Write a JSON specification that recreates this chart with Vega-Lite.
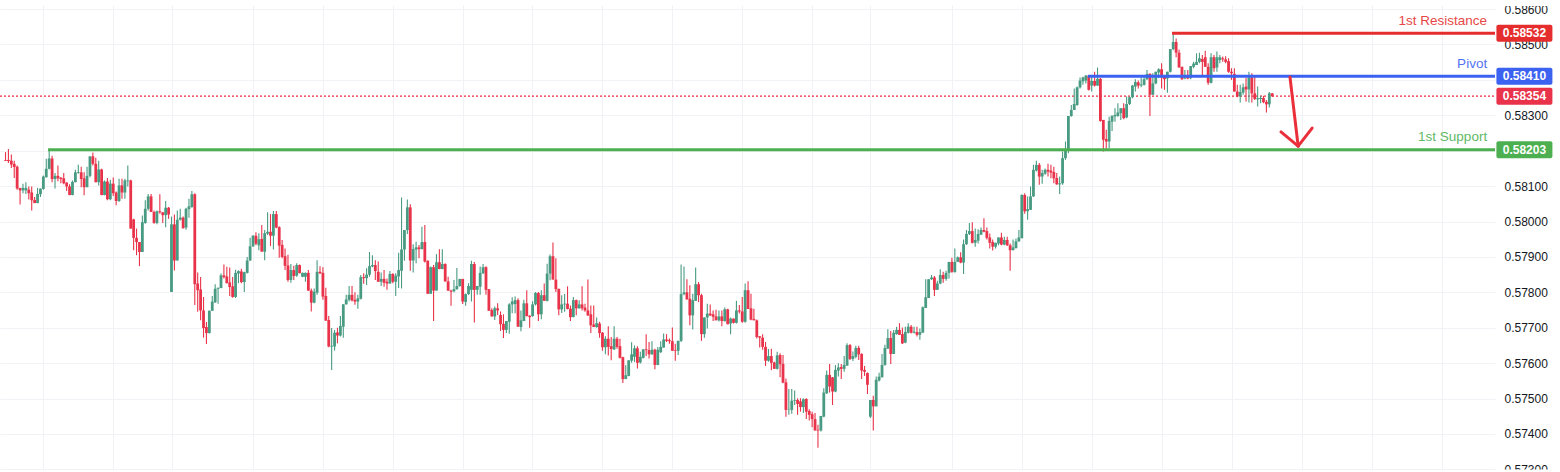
{
  "$schema": "https://vega.github.io/schema/vega-lite/v6.json",
  "width": 1495,
  "height": 465,
  "autosize": "none",
  "padding": {"left": 0, "top": 5, "right": 65, "bottom": 2},
  "background": "#ffffff",
  "config": {"view": {"stroke": null}},
  "datasets": {
    "levels": [
      {"level": "1st Resistance", "price": 0.58532, "from": 400.6},
      {"level": "Pivot", "price": 0.5841, "from": 371.7},
      {"level": "1st Support", "price": 0.58203, "from": 14.6}
    ],
    "last": [{"level": "Last", "price": 0.58354, "from": -1.89}],
    "arrow": [
      {"part": "shaft", "t": 441.1, "p": 0.58408},
      {"part": "shaft", "t": 443.9, "p": 0.58213},
      {"part": "left", "t": 438.0, "p": 0.58253},
      {"part": "left", "t": 443.9, "p": 0.58213},
      {"part": "right", "t": 448.7, "p": 0.58264},
      {"part": "right", "t": 443.9, "p": 0.58213}
    ],
    "edges": [
      {"a": 512.4, "b": 536, "top": 0.5866, "bottom": 0.58609},
      {"a": 512.4, "b": 536, "top": 0.572997, "bottom": 0.5725}
    ],
    "candles": [
      {"t":0,"o":0.58174,"h":0.58196,"l":0.58171,"c":0.58172},
      {"t":1,"o":0.58174,"h":0.58205,"l":0.58165,"c":0.58171},
      {"t":2,"o":0.58172,"h":0.58189,"l":0.58151,"c":0.58161},
      {"t":3,"o":0.58163,"h":0.58172,"l":0.58123,"c":0.58154},
      {"t":4,"o":0.58155,"h":0.58158,"l":0.5809,"c":0.58093},
      {"t":5,"o":0.58095,"h":0.58095,"l":0.58048,"c":0.58088},
      {"t":6,"o":0.58088,"h":0.58107,"l":0.5808,"c":0.58095},
      {"t":7,"o":0.58088,"h":0.58111,"l":0.58078,"c":0.58095},
      {"t":8,"o":0.5809,"h":0.58099,"l":0.58062,"c":0.5808},
      {"t":9,"o":0.58082,"h":0.58099,"l":0.58031,"c":0.5806},
      {"t":10,"o":0.58061,"h":0.58069,"l":0.58052,"c":0.58052},
      {"t":11,"o":0.58052,"h":0.58095,"l":0.58052,"c":0.58078},
      {"t":12,"o":0.58077,"h":0.58093,"l":0.58069,"c":0.58093},
      {"t":13,"o":0.58092,"h":0.5813,"l":0.5809,"c":0.58127},
      {"t":14,"o":0.58125,"h":0.58177,"l":0.58124,"c":0.58149},
      {"t":15,"o":0.58149,"h":0.58201,"l":0.58147,"c":0.58178},
      {"t":16,"o":0.58178,"h":0.58186,"l":0.58111,"c":0.5812},
      {"t":17,"o":0.5812,"h":0.58137,"l":0.58093,"c":0.58129},
      {"t":18,"o":0.58129,"h":0.58158,"l":0.58114,"c":0.58122},
      {"t":19,"o":0.58124,"h":0.58125,"l":0.58108,"c":0.5812},
      {"t":20,"o":0.58122,"h":0.58137,"l":0.58105,"c":0.58108},
      {"t":21,"o":0.5811,"h":0.58111,"l":0.58086,"c":0.58099},
      {"t":22,"o":0.58099,"h":0.58105,"l":0.58074,"c":0.58075},
      {"t":23,"o":0.58075,"h":0.58116,"l":0.58074,"c":0.58112},
      {"t":24,"o":0.58111,"h":0.58146,"l":0.58111,"c":0.58139},
      {"t":25,"o":0.58137,"h":0.5816,"l":0.58135,"c":0.58139},
      {"t":26,"o":0.58139,"h":0.58155,"l":0.58097,"c":0.5812},
      {"t":27,"o":0.58122,"h":0.58139,"l":0.58074,"c":0.58097},
      {"t":28,"o":0.58097,"h":0.58155,"l":0.58097,"c":0.58129},
      {"t":29,"o":0.58129,"h":0.58184,"l":0.58125,"c":0.58184},
      {"t":30,"o":0.58184,"h":0.58195,"l":0.58158,"c":0.58163},
      {"t":31,"o":0.58163,"h":0.5818,"l":0.58111,"c":0.58111},
      {"t":32,"o":0.58111,"h":0.58172,"l":0.58102,"c":0.58147},
      {"t":33,"o":0.58147,"h":0.58149,"l":0.58074,"c":0.58075},
      {"t":34,"o":0.58075,"h":0.58116,"l":0.58074,"c":0.58113},
      {"t":35,"o":0.58113,"h":0.58123,"l":0.5806,"c":0.58063},
      {"t":36,"o":0.58063,"h":0.58118,"l":0.5806,"c":0.58107},
      {"t":37,"o":0.58107,"h":0.58124,"l":0.58072,"c":0.5808},
      {"t":38,"o":0.58082,"h":0.58085,"l":0.58046,"c":0.58058},
      {"t":39,"o":0.58058,"h":0.58121,"l":0.58055,"c":0.58102},
      {"t":40,"o":0.58102,"h":0.58121,"l":0.58064,"c":0.58082},
      {"t":41,"o":0.58082,"h":0.58121,"l":0.58064,"c":0.58116},
      {"t":42,"o":0.58114,"h":0.58158,"l":0.58099,"c":0.58116},
      {"t":43,"o":0.58116,"h":0.58118,"l":0.5798,"c":0.5798},
      {"t":44,"o":0.58006,"h":0.58008,"l":0.57919,"c":0.57954},
      {"t":45,"o":0.57954,"h":0.5798,"l":0.57905,"c":0.57942},
      {"t":46,"o":0.57942,"h":0.57942,"l":0.57874,"c":0.57914},
      {"t":47,"o":0.57914,"h":0.58017,"l":0.57914,"c":0.57998},
      {"t":48,"o":0.57996,"h":0.5806,"l":0.57994,"c":0.58036},
      {"t":49,"o":0.58036,"h":0.58078,"l":0.58031,"c":0.58071},
      {"t":50,"o":0.58071,"h":0.58078,"l":0.58027,"c":0.58027},
      {"t":51,"o":0.58027,"h":0.58031,"l":0.57994,"c":0.57996},
      {"t":52,"o":0.57996,"h":0.58031,"l":0.57992,"c":0.58029},
      {"t":53,"o":0.58029,"h":0.58077,"l":0.58022,"c":0.58026},
      {"t":54,"o":0.58026,"h":0.58027,"l":0.57996,"c":0.58018},
      {"t":55,"o":0.58018,"h":0.58058,"l":0.57984,"c":0.58039},
      {"t":56,"o":0.58039,"h":0.58041,"l":0.58008,"c":0.5802},
      {"t":57,"o":0.57801,"h":0.58014,"l":0.57801,"c":0.57992},
      {"t":58,"o":0.57992,"h":0.5802,"l":0.57862,"c":0.5789},
      {"t":59,"o":0.5789,"h":0.58031,"l":0.5789,"c":0.58005},
      {"t":60,"o":0.58005,"h":0.58036,"l":0.58003,"c":0.58011},
      {"t":61,"o":0.58011,"h":0.58014,"l":0.5798,"c":0.57981},
      {"t":62,"o":0.57983,"h":0.58039,"l":0.57977,"c":0.58036},
      {"t":63,"o":0.58035,"h":0.58064,"l":0.58011,"c":0.58043},
      {"t":64,"o":0.58041,"h":0.58086,"l":0.58039,"c":0.58077},
      {"t":65,"o":0.58077,"h":0.5808,"l":0.57764,"c":0.57823},
      {"t":66,"o":0.57825,"h":0.57856,"l":0.57745,"c":0.57806},
      {"t":67,"o":0.57808,"h":0.57843,"l":0.57721,"c":0.57749},
      {"t":68,"o":0.57749,"h":0.57787,"l":0.57672,"c":0.57699},
      {"t":69,"o":0.57702,"h":0.57716,"l":0.57654,"c":0.57685},
      {"t":70,"o":0.57685,"h":0.57749,"l":0.57684,"c":0.57748},
      {"t":71,"o":0.57748,"h":0.5779,"l":0.57747,"c":0.57774},
      {"t":72,"o":0.57772,"h":0.57823,"l":0.5777,"c":0.5781},
      {"t":73,"o":0.5781,"h":0.57813,"l":0.57768,"c":0.57813},
      {"t":74,"o":0.57812,"h":0.57853,"l":0.57812,"c":0.57848},
      {"t":75,"o":0.57848,"h":0.57879,"l":0.57839,"c":0.57843},
      {"t":76,"o":0.57845,"h":0.57872,"l":0.57825,"c":0.57826},
      {"t":77,"o":0.57828,"h":0.5787,"l":0.5779,"c":0.57815},
      {"t":78,"o":0.57817,"h":0.57843,"l":0.57785,"c":0.57787},
      {"t":79,"o":0.57787,"h":0.57864,"l":0.57784,"c":0.57855},
      {"t":80,"o":0.57853,"h":0.57862,"l":0.57826,"c":0.5786},
      {"t":81,"o":0.57859,"h":0.57867,"l":0.57826,"c":0.57829},
      {"t":82,"o":0.57829,"h":0.57858,"l":0.57801,"c":0.57857},
      {"t":83,"o":0.57855,"h":0.579,"l":0.57853,"c":0.5789},
      {"t":84,"o":0.5789,"h":0.57954,"l":0.57889,"c":0.5793},
      {"t":85,"o":0.5793,"h":0.57961,"l":0.57928,"c":0.5796},
      {"t":86,"o":0.5796,"h":0.5797,"l":0.57933,"c":0.57937},
      {"t":87,"o":0.57933,"h":0.57967,"l":0.57919,"c":0.5795},
      {"t":88,"o":0.57951,"h":0.5799,"l":0.57915,"c":0.57915},
      {"t":89,"o":0.57915,"h":0.57976,"l":0.57891,"c":0.57967},
      {"t":90,"o":0.57966,"h":0.58026,"l":0.57962,"c":0.57971},
      {"t":91,"o":0.57971,"h":0.58021,"l":0.57931,"c":0.5796},
      {"t":92,"o":0.5796,"h":0.5803,"l":0.57921,"c":0.58021},
      {"t":93,"o":0.58021,"h":0.5803,"l":0.57981,"c":0.57983},
      {"t":94,"o":0.57984,"h":0.57987,"l":0.57898,"c":0.57932},
      {"t":95,"o":0.57934,"h":0.57948,"l":0.57896,"c":0.579},
      {"t":96,"o":0.57902,"h":0.57924,"l":0.57863,"c":0.57875},
      {"t":97,"o":0.57876,"h":0.57906,"l":0.5783,"c":0.57835},
      {"t":98,"o":0.57835,"h":0.5788,"l":0.57827,"c":0.57863},
      {"t":99,"o":0.57863,"h":0.57875,"l":0.57835,"c":0.57846},
      {"t":100,"o":0.57847,"h":0.57882,"l":0.57844,"c":0.57877},
      {"t":101,"o":0.57877,"h":0.57879,"l":0.57854,"c":0.57854},
      {"t":102,"o":0.57844,"h":0.57856,"l":0.57843,"c":0.57855},
      {"t":103,"o":0.57844,"h":0.57856,"l":0.5783,"c":0.57855},
      {"t":104,"o":0.57855,"h":0.57863,"l":0.57804,"c":0.57805},
      {"t":105,"o":0.57805,"h":0.57811,"l":0.57746,"c":0.57771},
      {"t":106,"o":0.57771,"h":0.57811,"l":0.57769,"c":0.57802},
      {"t":107,"o":0.57799,"h":0.57891,"l":0.57793,"c":0.57858},
      {"t":108,"o":0.57858,"h":0.57874,"l":0.57852,"c":0.57854},
      {"t":109,"o":0.57855,"h":0.57871,"l":0.57779,"c":0.57788},
      {"t":110,"o":0.5779,"h":0.57813,"l":0.5772,"c":0.5772},
      {"t":111,"o":0.57722,"h":0.57733,"l":0.57645,"c":0.57647},
      {"t":112,"o":0.57647,"h":0.57699,"l":0.57581,"c":0.57649},
      {"t":113,"o":0.57647,"h":0.57694,"l":0.57636,"c":0.57686},
      {"t":114,"o":0.57687,"h":0.577,"l":0.57656,"c":0.57678},
      {"t":115,"o":0.57678,"h":0.57733,"l":0.57675,"c":0.57705},
      {"t":116,"o":0.57703,"h":0.57767,"l":0.57672,"c":0.57766},
      {"t":117,"o":0.57766,"h":0.57793,"l":0.57766,"c":0.5778},
      {"t":118,"o":0.57779,"h":0.57818,"l":0.57774,"c":0.57793},
      {"t":119,"o":0.57793,"h":0.57818,"l":0.57774,"c":0.57777},
      {"t":120,"o":0.57779,"h":0.578,"l":0.57765,"c":0.57774},
      {"t":121,"o":0.57774,"h":0.57793,"l":0.57754,"c":0.57783},
      {"t":122,"o":0.57782,"h":0.57849,"l":0.5778,"c":0.57843},
      {"t":123,"o":0.57843,"h":0.57854,"l":0.57824,"c":0.5784},
      {"t":124,"o":0.5784,"h":0.57868,"l":0.57821,"c":0.5785},
      {"t":125,"o":0.5785,"h":0.57914,"l":0.57844,"c":0.57874},
      {"t":126,"o":0.57873,"h":0.57905,"l":0.57871,"c":0.57877},
      {"t":127,"o":0.57877,"h":0.57891,"l":0.57835,"c":0.5786},
      {"t":128,"o":0.57858,"h":0.57887,"l":0.57829,"c":0.5783},
      {"t":129,"o":0.5783,"h":0.57856,"l":0.57818,"c":0.57838},
      {"t":130,"o":0.57838,"h":0.57863,"l":0.57816,"c":0.57827},
      {"t":131,"o":0.5783,"h":0.57839,"l":0.57807,"c":0.57825},
      {"t":132,"o":0.57825,"h":0.5786,"l":0.57824,"c":0.57852},
      {"t":133,"o":0.57852,"h":0.57854,"l":0.57826,"c":0.5783},
      {"t":134,"o":0.5783,"h":0.57854,"l":0.5779,"c":0.57847},
      {"t":135,"o":0.57845,"h":0.57912,"l":0.57812,"c":0.57863},
      {"t":136,"o":0.57861,"h":0.58068,"l":0.57811,"c":0.57921},
      {"t":137,"o":0.57921,"h":0.57976,"l":0.57889,"c":0.57976},
      {"t":138,"o":0.57976,"h":0.58062,"l":0.57965,"c":0.5804},
      {"t":139,"o":0.5804,"h":0.58049,"l":0.57861,"c":0.5789},
      {"t":140,"o":0.5789,"h":0.57936,"l":0.57856,"c":0.57922},
      {"t":141,"o":0.57921,"h":0.57943,"l":0.57882,"c":0.57927},
      {"t":142,"o":0.57927,"h":0.57934,"l":0.57896,"c":0.57922},
      {"t":143,"o":0.57922,"h":0.57985,"l":0.57922,"c":0.57942},
      {"t":144,"o":0.57942,"h":0.5799,"l":0.57884,"c":0.57887},
      {"t":145,"o":0.57889,"h":0.57891,"l":0.57796,"c":0.57796},
      {"t":146,"o":0.57796,"h":0.57873,"l":0.57796,"c":0.57871},
      {"t":147,"o":0.57871,"h":0.57877,"l":0.57719,"c":0.57805},
      {"t":148,"o":0.57805,"h":0.57908,"l":0.57805,"c":0.57885},
      {"t":149,"o":0.57885,"h":0.57922,"l":0.57865,"c":0.57866},
      {"t":150,"o":0.57866,"h":0.57922,"l":0.57865,"c":0.5788},
      {"t":151,"o":0.5788,"h":0.57882,"l":0.5783,"c":0.57831},
      {"t":152,"o":0.57831,"h":0.57844,"l":0.57804,"c":0.57805},
      {"t":153,"o":0.57805,"h":0.57807,"l":0.57762,"c":0.57802},
      {"t":154,"o":0.57803,"h":0.57835,"l":0.578,"c":0.57809},
      {"t":155,"o":0.57809,"h":0.57869,"l":0.57807,"c":0.57818},
      {"t":156,"o":0.57818,"h":0.57838,"l":0.57816,"c":0.57838},
      {"t":157,"o":0.57838,"h":0.57838,"l":0.57767,"c":0.57774},
      {"t":158,"o":0.57773,"h":0.57797,"l":0.57762,"c":0.57795},
      {"t":159,"o":0.57795,"h":0.57826,"l":0.57793,"c":0.57818},
      {"t":160,"o":0.57807,"h":0.57889,"l":0.57774,"c":0.5788},
      {"t":161,"o":0.5788,"h":0.57886,"l":0.57715,"c":0.57807},
      {"t":162,"o":0.57807,"h":0.57818,"l":0.57793,"c":0.57818},
      {"t":163,"o":0.57816,"h":0.57873,"l":0.57793,"c":0.57855},
      {"t":164,"o":0.57854,"h":0.5788,"l":0.57852,"c":0.57871},
      {"t":165,"o":0.57871,"h":0.57874,"l":0.57793,"c":0.57807},
      {"t":166,"o":0.57809,"h":0.57809,"l":0.57748,"c":0.57748},
      {"t":167,"o":0.5775,"h":0.57755,"l":0.57732,"c":0.57732},
      {"t":168,"o":0.57732,"h":0.5776,"l":0.57722,"c":0.57755},
      {"t":169,"o":0.57755,"h":0.57769,"l":0.57736,"c":0.57749},
      {"t":170,"o":0.57736,"h":0.57746,"l":0.57691,"c":0.5771},
      {"t":171,"o":0.57711,"h":0.57738,"l":0.57671,"c":0.57694},
      {"t":172,"o":0.57694,"h":0.57719,"l":0.57685,"c":0.57719},
      {"t":173,"o":0.57717,"h":0.57769,"l":0.57683,"c":0.57766},
      {"t":174,"o":0.57766,"h":0.57786,"l":0.57741,"c":0.57774},
      {"t":175,"o":0.57767,"h":0.57788,"l":0.57741,"c":0.57778},
      {"t":176,"o":0.57778,"h":0.57783,"l":0.57703,"c":0.57703},
      {"t":177,"o":0.57702,"h":0.57749,"l":0.5769,"c":0.57721},
      {"t":178,"o":0.57719,"h":0.57779,"l":0.57719,"c":0.57769},
      {"t":179,"o":0.57769,"h":0.57806,"l":0.57732,"c":0.57733},
      {"t":180,"o":0.57734,"h":0.57735,"l":0.577,"c":0.5773},
      {"t":181,"o":0.57733,"h":0.57775,"l":0.57731,"c":0.57766},
      {"t":182,"o":0.57766,"h":0.57801,"l":0.57763,"c":0.57798},
      {"t":183,"o":0.57798,"h":0.57801,"l":0.57719,"c":0.57738},
      {"t":184,"o":0.57738,"h":0.57806,"l":0.57724,"c":0.57792},
      {"t":185,"o":0.57792,"h":0.57825,"l":0.57776,"c":0.57776},
      {"t":186,"o":0.57776,"h":0.57881,"l":0.57774,"c":0.57853},
      {"t":187,"o":0.57853,"h":0.57907,"l":0.57834,"c":0.57902},
      {"t":188,"o":0.57902,"h":0.57941,"l":0.57836,"c":0.57836},
      {"t":189,"o":0.57836,"h":0.57896,"l":0.57801,"c":0.57809},
      {"t":190,"o":0.5781,"h":0.5781,"l":0.57735,"c":0.57752},
      {"t":191,"o":0.57752,"h":0.57792,"l":0.57742,"c":0.57766},
      {"t":192,"o":0.57766,"h":0.57795,"l":0.57745,"c":0.57768},
      {"t":193,"o":0.57768,"h":0.57817,"l":0.57752,"c":0.57753},
      {"t":194,"o":0.57754,"h":0.57763,"l":0.57719,"c":0.5773},
      {"t":195,"o":0.5773,"h":0.57787,"l":0.5773,"c":0.57778},
      {"t":196,"o":0.57778,"h":0.5778,"l":0.57735,"c":0.57755},
      {"t":197,"o":0.57755,"h":0.57778,"l":0.57754,"c":0.57766},
      {"t":198,"o":0.57766,"h":0.57817,"l":0.57749,"c":0.57755},
      {"t":199,"o":0.57757,"h":0.57768,"l":0.57745,"c":0.57749},
      {"t":200,"o":0.57749,"h":0.57836,"l":0.57733,"c":0.57735},
      {"t":201,"o":0.57738,"h":0.57763,"l":0.57685,"c":0.57707},
      {"t":202,"o":0.57709,"h":0.57763,"l":0.57702,"c":0.57702},
      {"t":203,"o":0.57702,"h":0.57729,"l":0.577,"c":0.57713},
      {"t":204,"o":0.57712,"h":0.57717,"l":0.57672,"c":0.57685},
      {"t":205,"o":0.57686,"h":0.57688,"l":0.57635,"c":0.57645},
      {"t":206,"o":0.57645,"h":0.57676,"l":0.57625,"c":0.57669},
      {"t":207,"o":0.57669,"h":0.57704,"l":0.57622,"c":0.57646},
      {"t":208,"o":0.57648,"h":0.57674,"l":0.57608,"c":0.5764},
      {"t":209,"o":0.57639,"h":0.57704,"l":0.57637,"c":0.57669},
      {"t":210,"o":0.57669,"h":0.57674,"l":0.57641,"c":0.57646},
      {"t":211,"o":0.57648,"h":0.57669,"l":0.57613,"c":0.57615},
      {"t":212,"o":0.57617,"h":0.57618,"l":0.57544,"c":0.57555},
      {"t":213,"o":0.57555,"h":0.57594,"l":0.57555,"c":0.57566},
      {"t":214,"o":0.57564,"h":0.57608,"l":0.57563,"c":0.57608},
      {"t":215,"o":0.57607,"h":0.57659,"l":0.57601,"c":0.57625},
      {"t":216,"o":0.57618,"h":0.5765,"l":0.57603,"c":0.57642},
      {"t":217,"o":0.57642,"h":0.57648,"l":0.57585,"c":0.57601},
      {"t":218,"o":0.57602,"h":0.57632,"l":0.57599,"c":0.57618},
      {"t":219,"o":0.57615,"h":0.57639,"l":0.57613,"c":0.57639},
      {"t":220,"o":0.57639,"h":0.57682,"l":0.5762,"c":0.57637},
      {"t":221,"o":0.57637,"h":0.5766,"l":0.57613,"c":0.57625},
      {"t":222,"o":0.57625,"h":0.57662,"l":0.57624,"c":0.57638},
      {"t":223,"o":0.57638,"h":0.57641,"l":0.57583,"c":0.57595},
      {"t":224,"o":0.57595,"h":0.57646,"l":0.57594,"c":0.57638},
      {"t":225,"o":0.57631,"h":0.57662,"l":0.57629,"c":0.57646},
      {"t":226,"o":0.57644,"h":0.57684,"l":0.57644,"c":0.57667},
      {"t":227,"o":0.57667,"h":0.57682,"l":0.5766,"c":0.57663},
      {"t":228,"o":0.57665,"h":0.5767,"l":0.57655,"c":0.57662},
      {"t":229,"o":0.57662,"h":0.57701,"l":0.57635,"c":0.57635},
      {"t":230,"o":0.57637,"h":0.57655,"l":0.57607,"c":0.57635},
      {"t":231,"o":0.57635,"h":0.57663,"l":0.57623,"c":0.57663},
      {"t":232,"o":0.57663,"h":0.57879,"l":0.5766,"c":0.57795},
      {"t":233,"o":0.57795,"h":0.57873,"l":0.57792,"c":0.578},
      {"t":234,"o":0.578,"h":0.57837,"l":0.5778,"c":0.5778},
      {"t":235,"o":0.57782,"h":0.5782,"l":0.57707,"c":0.57735},
      {"t":236,"o":0.57735,"h":0.57796,"l":0.57695,"c":0.57778},
      {"t":237,"o":0.57776,"h":0.5787,"l":0.57776,"c":0.57823},
      {"t":238,"o":0.57823,"h":0.57829,"l":0.57773,"c":0.57792},
      {"t":239,"o":0.57792,"h":0.57796,"l":0.57663,"c":0.57682},
      {"t":240,"o":0.57682,"h":0.57729,"l":0.57672,"c":0.57729},
      {"t":241,"o":0.57729,"h":0.57768,"l":0.57698,"c":0.5774},
      {"t":242,"o":0.5774,"h":0.57766,"l":0.57733,"c":0.57735},
      {"t":243,"o":0.57738,"h":0.57749,"l":0.57719,"c":0.57731},
      {"t":244,"o":0.57732,"h":0.57751,"l":0.57721,"c":0.57721},
      {"t":245,"o":0.57721,"h":0.57749,"l":0.57718,"c":0.57732},
      {"t":246,"o":0.57732,"h":0.57749,"l":0.57704,"c":0.57719},
      {"t":247,"o":0.57719,"h":0.57757,"l":0.57717,"c":0.57752},
      {"t":248,"o":0.57752,"h":0.57754,"l":0.5771,"c":0.5771},
      {"t":249,"o":0.57712,"h":0.57729,"l":0.57682,"c":0.57726},
      {"t":250,"o":0.57726,"h":0.57726,"l":0.57712,"c":0.57714},
      {"t":251,"o":0.57714,"h":0.57776,"l":0.57712,"c":0.57749},
      {"t":252,"o":0.57749,"h":0.57764,"l":0.5774,"c":0.57746},
      {"t":253,"o":0.57746,"h":0.57787,"l":0.57714,"c":0.57717},
      {"t":254,"o":0.57717,"h":0.57825,"l":0.57714,"c":0.57806},
      {"t":255,"o":0.57806,"h":0.57831,"l":0.57753,"c":0.57753},
      {"t":256,"o":0.57755,"h":0.57796,"l":0.57721,"c":0.57723},
      {"t":257,"o":0.57725,"h":0.57754,"l":0.57721,"c":0.57721},
      {"t":258,"o":0.57721,"h":0.57723,"l":0.5767,"c":0.57674},
      {"t":259,"o":0.57676,"h":0.57676,"l":0.57644,"c":0.57672},
      {"t":260,"o":0.57672,"h":0.57682,"l":0.57638,"c":0.57646},
      {"t":261,"o":0.57646,"h":0.5766,"l":0.57592,"c":0.57607},
      {"t":262,"o":0.57607,"h":0.5764,"l":0.57604,"c":0.5762},
      {"t":263,"o":0.5762,"h":0.57641,"l":0.5758,"c":0.57601},
      {"t":264,"o":0.57602,"h":0.57604,"l":0.57584,"c":0.57584},
      {"t":265,"o":0.57584,"h":0.57632,"l":0.57582,"c":0.57622},
      {"t":266,"o":0.57623,"h":0.57628,"l":0.5756,"c":0.57597},
      {"t":267,"o":0.57598,"h":0.57623,"l":0.57543,"c":0.57545},
      {"t":268,"o":0.57546,"h":0.57557,"l":0.57449,"c":0.57468},
      {"t":269,"o":0.57469,"h":0.57527,"l":0.57454,"c":0.5747},
      {"t":270,"o":0.57468,"h":0.57527,"l":0.57457,"c":0.57494},
      {"t":271,"o":0.57494,"h":0.57523,"l":0.57482,"c":0.57496},
      {"t":272,"o":0.57496,"h":0.57501,"l":0.57454,"c":0.57485},
      {"t":273,"o":0.57492,"h":0.57501,"l":0.57463,"c":0.57476},
      {"t":274,"o":0.57476,"h":0.57501,"l":0.57459,"c":0.57498},
      {"t":275,"o":0.57499,"h":0.57501,"l":0.57442,"c":0.57463},
      {"t":276,"o":0.57465,"h":0.5747,"l":0.57438,"c":0.57454},
      {"t":277,"o":0.57456,"h":0.57463,"l":0.57419,"c":0.57442},
      {"t":278,"o":0.57442,"h":0.57459,"l":0.5741,"c":0.5741},
      {"t":279,"o":0.57412,"h":0.57426,"l":0.57361,"c":0.5741},
      {"t":280,"o":0.5741,"h":0.57451,"l":0.57407,"c":0.57451},
      {"t":281,"o":0.57449,"h":0.57529,"l":0.57447,"c":0.57517},
      {"t":282,"o":0.57515,"h":0.57579,"l":0.57513,"c":0.57567},
      {"t":283,"o":0.57567,"h":0.57598,"l":0.57517,"c":0.57534},
      {"t":284,"o":0.5756,"h":0.57561,"l":0.57482,"c":0.5752},
      {"t":285,"o":0.5752,"h":0.57595,"l":0.57518,"c":0.57581},
      {"t":286,"o":0.57579,"h":0.576,"l":0.57562,"c":0.57588},
      {"t":287,"o":0.57589,"h":0.57598,"l":0.57555,"c":0.57584},
      {"t":288,"o":0.57584,"h":0.5762,"l":0.57576,"c":0.57595},
      {"t":289,"o":0.57593,"h":0.57656,"l":0.57593,"c":0.57651},
      {"t":290,"o":0.57651,"h":0.57654,"l":0.57609,"c":0.57612},
      {"t":291,"o":0.57612,"h":0.57633,"l":0.57606,"c":0.5762},
      {"t":292,"o":0.57618,"h":0.57649,"l":0.57614,"c":0.57643},
      {"t":293,"o":0.57643,"h":0.57649,"l":0.57609,"c":0.57625},
      {"t":294,"o":0.57626,"h":0.57628,"l":0.57555,"c":0.57579},
      {"t":295,"o":0.57581,"h":0.57592,"l":0.57564,"c":0.57576},
      {"t":296,"o":0.57572,"h":0.57574,"l":0.57513,"c":0.57539},
      {"t":297,"o":0.57449,"h":0.57496,"l":0.57445,"c":0.57496},
      {"t":298,"o":0.57496,"h":0.57508,"l":0.5741,"c":0.57478},
      {"t":299,"o":0.57478,"h":0.57562,"l":0.57478,"c":0.57553},
      {"t":300,"o":0.57551,"h":0.57573,"l":0.57548,"c":0.57562},
      {"t":301,"o":0.5756,"h":0.57626,"l":0.5756,"c":0.57595},
      {"t":302,"o":0.57595,"h":0.57652,"l":0.57593,"c":0.57643},
      {"t":303,"o":0.57641,"h":0.57696,"l":0.57641,"c":0.57671},
      {"t":304,"o":0.57671,"h":0.57691,"l":0.57598,"c":0.57626},
      {"t":305,"o":0.57626,"h":0.57694,"l":0.57626,"c":0.57686},
      {"t":306,"o":0.57682,"h":0.57703,"l":0.5768,"c":0.57694},
      {"t":307,"o":0.57694,"h":0.57713,"l":0.5768,"c":0.5768},
      {"t":308,"o":0.57682,"h":0.57701,"l":0.57654,"c":0.57656},
      {"t":309,"o":0.57658,"h":0.57703,"l":0.57656,"c":0.57688},
      {"t":310,"o":0.57686,"h":0.57713,"l":0.57684,"c":0.57703},
      {"t":311,"o":0.57703,"h":0.57708,"l":0.57684,"c":0.57686},
      {"t":312,"o":0.57686,"h":0.57703,"l":0.57684,"c":0.57689},
      {"t":313,"o":0.57688,"h":0.57703,"l":0.57675,"c":0.5768},
      {"t":314,"o":0.5768,"h":0.57698,"l":0.57666,"c":0.57688},
      {"t":315,"o":0.57686,"h":0.5776,"l":0.57686,"c":0.57758},
      {"t":316,"o":0.57756,"h":0.57837,"l":0.57756,"c":0.57786},
      {"t":317,"o":0.57784,"h":0.57837,"l":0.57784,"c":0.57837},
      {"t":318,"o":0.57837,"h":0.57849,"l":0.57835,"c":0.57842},
      {"t":319,"o":0.57842,"h":0.57846,"l":0.5779,"c":0.57807},
      {"t":320,"o":0.57807,"h":0.57833,"l":0.57807,"c":0.57825},
      {"t":321,"o":0.57825,"h":0.57865,"l":0.57823,"c":0.57849},
      {"t":322,"o":0.57849,"h":0.57858,"l":0.57827,"c":0.57838},
      {"t":323,"o":0.57838,"h":0.57861,"l":0.57833,"c":0.57855},
      {"t":324,"o":0.57855,"h":0.57886,"l":0.57839,"c":0.57886},
      {"t":325,"o":0.57886,"h":0.57898,"l":0.57855,"c":0.57858},
      {"t":326,"o":0.57857,"h":0.57924,"l":0.57856,"c":0.57886},
      {"t":327,"o":0.57886,"h":0.57901,"l":0.57886,"c":0.57899},
      {"t":328,"o":0.57899,"h":0.57913,"l":0.57882,"c":0.57884},
      {"t":329,"o":0.57884,"h":0.57949,"l":0.57852,"c":0.57936},
      {"t":330,"o":0.57936,"h":0.57976,"l":0.57934,"c":0.57965},
      {"t":331,"o":0.57965,"h":0.57996,"l":0.57962,"c":0.57973},
      {"t":332,"o":0.57973,"h":0.57998,"l":0.57938,"c":0.5794},
      {"t":333,"o":0.5794,"h":0.5798,"l":0.57929,"c":0.57948},
      {"t":334,"o":0.57946,"h":0.57978,"l":0.57938,"c":0.57965},
      {"t":335,"o":0.57963,"h":0.57983,"l":0.57962,"c":0.57976},
      {"t":336,"o":0.57976,"h":0.58009,"l":0.5797,"c":0.57971},
      {"t":337,"o":0.57973,"h":0.57983,"l":0.57949,"c":0.57954},
      {"t":338,"o":0.57955,"h":0.57966,"l":0.57924,"c":0.5794},
      {"t":339,"o":0.57942,"h":0.57949,"l":0.57918,"c":0.57929},
      {"t":340,"o":0.57929,"h":0.5794,"l":0.57924,"c":0.5794},
      {"t":341,"o":0.57938,"h":0.57955,"l":0.57933,"c":0.57955},
      {"t":342,"o":0.57955,"h":0.57968,"l":0.57933,"c":0.57935},
      {"t":343,"o":0.57935,"h":0.57957,"l":0.57933,"c":0.57948},
      {"t":344,"o":0.57948,"h":0.57957,"l":0.57931,"c":0.57933},
      {"t":345,"o":0.57933,"h":0.57938,"l":0.57861,"c":0.57919},
      {"t":346,"o":0.57919,"h":0.57949,"l":0.57919,"c":0.57927},
      {"t":347,"o":0.57925,"h":0.57952,"l":0.57924,"c":0.57944},
      {"t":348,"o":0.57944,"h":0.57976,"l":0.57943,"c":0.57955},
      {"t":349,"o":0.57953,"h":0.58077,"l":0.57953,"c":0.58075},
      {"t":350,"o":0.58075,"h":0.5808,"l":0.58022,"c":0.58029},
      {"t":351,"o":0.58029,"h":0.58071,"l":0.58005,"c":0.58035},
      {"t":352,"o":0.58033,"h":0.58099,"l":0.58033,"c":0.58071},
      {"t":353,"o":0.58071,"h":0.5816,"l":0.58069,"c":0.58146},
      {"t":354,"o":0.58144,"h":0.58172,"l":0.58141,"c":0.5816},
      {"t":355,"o":0.5816,"h":0.58165,"l":0.58104,"c":0.58127},
      {"t":356,"o":0.58127,"h":0.58146,"l":0.58107,"c":0.58137},
      {"t":357,"o":0.58135,"h":0.5815,"l":0.58132,"c":0.58146},
      {"t":358,"o":0.58146,"h":0.58163,"l":0.58127,"c":0.58141},
      {"t":359,"o":0.58144,"h":0.5816,"l":0.58122,"c":0.58138},
      {"t":360,"o":0.5814,"h":0.58155,"l":0.58108,"c":0.58122},
      {"t":361,"o":0.58123,"h":0.58137,"l":0.58104,"c":0.58105},
      {"t":362,"o":0.58105,"h":0.58127,"l":0.58078,"c":0.58108},
      {"t":363,"o":0.58108,"h":0.58198,"l":0.58104,"c":0.58179},
      {"t":364,"o":0.58179,"h":0.58226,"l":0.58174,"c":0.58204},
      {"t":365,"o":0.58204,"h":0.58298,"l":0.58193,"c":0.58298},
      {"t":366,"o":0.58298,"h":0.58329,"l":0.58296,"c":0.58315},
      {"t":367,"o":0.58315,"h":0.58376,"l":0.58315,"c":0.58332},
      {"t":368,"o":0.58329,"h":0.58381,"l":0.58327,"c":0.58379},
      {"t":369,"o":0.58379,"h":0.58407,"l":0.58376,"c":0.58398},
      {"t":370,"o":0.58396,"h":0.58409,"l":0.58386,"c":0.58407},
      {"t":371,"o":0.58398,"h":0.58414,"l":0.5839,"c":0.58412},
      {"t":372,"o":0.58412,"h":0.58414,"l":0.5837,"c":0.58372},
      {"t":373,"o":0.58384,"h":0.58409,"l":0.58367,"c":0.58397},
      {"t":374,"o":0.58397,"h":0.58423,"l":0.58381,"c":0.58384},
      {"t":375,"o":0.58384,"h":0.58435,"l":0.58383,"c":0.58403},
      {"t":376,"o":0.58403,"h":0.58405,"l":0.58282,"c":0.58284},
      {"t":377,"o":0.58287,"h":0.58287,"l":0.58198,"c":0.58231},
      {"t":378,"o":0.58233,"h":0.58259,"l":0.58202,"c":0.58226},
      {"t":379,"o":0.58226,"h":0.58296,"l":0.58207,"c":0.58284},
      {"t":380,"o":0.58282,"h":0.58299,"l":0.58256,"c":0.58299},
      {"t":381,"o":0.58297,"h":0.5832,"l":0.58282,"c":0.58301},
      {"t":382,"o":0.58298,"h":0.58334,"l":0.58296,"c":0.58308},
      {"t":383,"o":0.58306,"h":0.5832,"l":0.58287,"c":0.5832},
      {"t":384,"o":0.5832,"h":0.58334,"l":0.58289,"c":0.58292},
      {"t":385,"o":0.58294,"h":0.58353,"l":0.58292,"c":0.58332},
      {"t":386,"o":0.58332,"h":0.58353,"l":0.58329,"c":0.58351},
      {"t":387,"o":0.58351,"h":0.58386,"l":0.58348,"c":0.58384},
      {"t":388,"o":0.58381,"h":0.58402,"l":0.58367,"c":0.58394},
      {"t":389,"o":0.58393,"h":0.58398,"l":0.58376,"c":0.58384},
      {"t":390,"o":0.58384,"h":0.58407,"l":0.58379,"c":0.58387},
      {"t":391,"o":0.58386,"h":0.58414,"l":0.58384,"c":0.58402},
      {"t":392,"o":0.58402,"h":0.58428,"l":0.584,"c":0.58417},
      {"t":393,"o":0.58417,"h":0.58419,"l":0.58298,"c":0.58358},
      {"t":394,"o":0.58358,"h":0.58419,"l":0.58358,"c":0.5839},
      {"t":395,"o":0.5839,"h":0.58423,"l":0.58388,"c":0.58423},
      {"t":396,"o":0.58421,"h":0.58433,"l":0.58405,"c":0.5843},
      {"t":397,"o":0.5843,"h":0.58447,"l":0.58376,"c":0.58407},
      {"t":398,"o":0.58409,"h":0.58414,"l":0.58372,"c":0.58402},
      {"t":399,"o":0.58404,"h":0.58423,"l":0.58364,"c":0.58423},
      {"t":400,"o":0.58423,"h":0.58487,"l":0.58421,"c":0.58487},
      {"t":401,"o":0.58487,"h":0.58533,"l":0.58484,"c":0.58507},
      {"t":402,"o":0.58507,"h":0.58517,"l":0.58464,"c":0.58477},
      {"t":403,"o":0.58477,"h":0.58486,"l":0.58435,"c":0.58435},
      {"t":404,"o":0.58437,"h":0.58437,"l":0.584,"c":0.58402},
      {"t":405,"o":0.58404,"h":0.58428,"l":0.58402,"c":0.58414},
      {"t":406,"o":0.58414,"h":0.58428,"l":0.58402,"c":0.58404},
      {"t":407,"o":0.58405,"h":0.58439,"l":0.58402,"c":0.58439},
      {"t":408,"o":0.58437,"h":0.58451,"l":0.58433,"c":0.58446},
      {"t":409,"o":0.58442,"h":0.58475,"l":0.58442,"c":0.58451},
      {"t":410,"o":0.58451,"h":0.58477,"l":0.58447,"c":0.58461},
      {"t":411,"o":0.58459,"h":0.5847,"l":0.58414,"c":0.58451},
      {"t":412,"o":0.58464,"h":0.58482,"l":0.58437,"c":0.58437},
      {"t":413,"o":0.58437,"h":0.58447,"l":0.58386,"c":0.58392},
      {"t":414,"o":0.58392,"h":0.58475,"l":0.5839,"c":0.58464},
      {"t":415,"o":0.58464,"h":0.5847,"l":0.58423,"c":0.58433},
      {"t":416,"o":0.58435,"h":0.5848,"l":0.58423,"c":0.58464},
      {"t":417,"o":0.58456,"h":0.5847,"l":0.58447,"c":0.58464},
      {"t":418,"o":0.58461,"h":0.58466,"l":0.58451,"c":0.58458},
      {"t":419,"o":0.58458,"h":0.58467,"l":0.58447,"c":0.58451},
      {"t":420,"o":0.58453,"h":0.58461,"l":0.5842,"c":0.58423},
      {"t":421,"o":0.58423,"h":0.58433,"l":0.584,"c":0.58419},
      {"t":422,"o":0.58417,"h":0.58433,"l":0.58367,"c":0.58367},
      {"t":423,"o":0.58367,"h":0.58386,"l":0.58351,"c":0.58353},
      {"t":424,"o":0.58353,"h":0.58386,"l":0.58336,"c":0.58366},
      {"t":425,"o":0.58364,"h":0.5839,"l":0.58358,"c":0.58379},
      {"t":426,"o":0.58381,"h":0.58405,"l":0.58339,"c":0.58373},
      {"t":427,"o":0.58373,"h":0.58423,"l":0.58336,"c":0.58407},
      {"t":428,"o":0.58407,"h":0.58419,"l":0.58336,"c":0.58362},
      {"t":429,"o":0.58362,"h":0.58409,"l":0.58343,"c":0.58346},
      {"t":430,"o":0.58345,"h":0.58381,"l":0.58325,"c":0.58348},
      {"t":431,"o":0.58346,"h":0.58355,"l":0.58334,"c":0.58349},
      {"t":432,"o":0.58349,"h":0.58355,"l":0.58334,"c":0.58337},
      {"t":433,"o":0.58338,"h":0.58343,"l":0.58308,"c":0.58331},
      {"t":434,"o":0.58331,"h":0.58366,"l":0.58322,"c":0.58362},
      {"t":435,"o":0.58362,"h":0.58363,"l":0.58352,"c":0.58354}
    ]
  },
  "encoding": {
    "x": {
      "field": "t",
      "type": "quantitative",
      "scale": {"domain": [-1.89, 511.5], "nice": false, "zero": false, "padding": 0},
      "axis": {
        "title": null,
        "labels": false,
        "ticks": false,
        "domain": false,
        "grid": true,
        "gridColor": "#f0f2f5",
        "values": [12.9, 36.9, 57.2, 85, 109, 133.1, 157.1, 180.8, 204.8, 228.9, 252.9, 277, 296.9, 325, 349.1, 373.1, 397.1, 421.2, 445.2, 469.3, 493.3]
      }
    },
    "y": {
      "field": "p",
      "type": "quantitative",
      "scale": {"domain": [0.572983, 0.586115], "nice": false, "zero": false},
      "axis": {
        "orient": "right",
        "title": null,
        "ticks": false,
        "domain": false,
        "grid": true,
        "gridColor": "#f0f2f5",
        "values": [0.573, 0.574, 0.575, 0.576, 0.577, 0.578, 0.579, 0.58, 0.581, 0.582, 0.583, 0.584, 0.585, 0.586],
        "labelExpr": "datum.label == '0.58400' || datum.label == '0.58200' ? '' : datum.label",
        "format": ".5f",
        "labelColor": "#131722",
        "labelFont": "Liberation Sans",
        "labelFontSize": 12,
        "labelPadding": 9,
        "labelOverlap": false,
        "labelBound": false
      }
    }
  },
  "layer": [
    {
      "data": {"name": "last"},
      "mark": {"type": "rule", "color": "#f0293f", "strokeWidth": 1.2, "strokeDash": [2, 2]},
      "encoding": {
        "x": {"field": "from", "type": "quantitative"},
        "x2": {"datum": 511.5},
        "y": {"field": "price", "type": "quantitative"}
      }
    },
    {
      "data": {"name": "candles"},
      "mark": {"type": "rule", "strokeWidth": 1.1},
      "encoding": {
        "y": {"field": "h", "type": "quantitative"},
        "y2": {"field": "l"},
        "color": {"condition": {"test": "datum.c >= datum.o", "value": "#489b82"}, "value": "#e8334a"}
      }
    },
    {
      "data": {"name": "candles"},
      "mark": {"type": "bar", "size": 2.8},
      "encoding": {
        "y": {"field": "o", "type": "quantitative"},
        "y2": {"field": "c"},
        "color": {"condition": {"test": "datum.c >= datum.o", "value": "#489b82"}, "value": "#e8334a"}
      }
    },
    {
      "data": {"name": "levels"},
      "mark": {"type": "rule", "strokeWidth": 3},
      "encoding": {
        "x": {"field": "from", "type": "quantitative"},
        "x2": {"datum": 511.5},
        "y": {"field": "price", "type": "quantitative"},
        "color": {
          "field": "level",
          "type": "nominal",
          "legend": null,
          "scale": {"domain": ["1st Resistance", "Pivot", "1st Support", "Last"], "range": ["#e52d2d", "#3b62f0", "#4caf50", "#e8334a"]}
        }
      }
    },
    {
      "data": {"name": "arrow"},
      "mark": {"type": "line", "color": "#ea2f3a", "strokeWidth": 3, "strokeCap": "round"},
      "encoding": {
        "x": {"field": "t", "type": "quantitative"},
        "y": {"field": "p", "type": "quantitative"},
        "detail": {"field": "part"},
        "order": {"value": 0}
      }
    },
    {
      "data": {"name": "levels"},
      "transform": [{"calculate": "508.8", "as": "labelAt"}],
      "mark": {"type": "text", "align": "right", "baseline": "middle", "dy": -12.5, "font": "Liberation Sans", "fontSize": 13.5, "opacity": 0.88},
      "encoding": {
        "x": {"field": "labelAt", "type": "quantitative"},
        "y": {"field": "price", "type": "quantitative"},
        "text": {"field": "level"},
        "color": {"field": "level", "type": "nominal", "legend": null}
      }
    },
    {
      "data": {"name": "edges"},
      "mark": {"type": "rect", "color": "#ffffff"},
      "encoding": {
        "x": {"field": "a", "type": "quantitative"},
        "x2": {"field": "b"},
        "y": {"field": "top", "type": "quantitative"},
        "y2": {"field": "bottom"}
      }
    },
    {
      "data": {"name": "levels"},
      "transform": [{"calculate": "521.6", "as": "tagAt"}],
      "mark": {"type": "rect", "width": 56, "height": 17, "cornerRadius": 2},
      "encoding": {
        "x": {"field": "tagAt", "type": "quantitative"},
        "y": {"field": "price", "type": "quantitative"},
        "color": {"field": "level", "type": "nominal", "legend": null}
      }
    },
    {
      "data": {"name": "last"},
      "transform": [{"calculate": "521.6", "as": "tagAt"}],
      "mark": {"type": "rect", "width": 56, "height": 17, "cornerRadius": 2, "color": "#e8334a"},
      "encoding": {
        "x": {"field": "tagAt", "type": "quantitative"},
        "y": {"field": "price", "type": "quantitative"}
      }
    },
    {
      "data": {"name": "levels"},
      "transform": [{"calculate": "521.6", "as": "tagAt"}],
      "mark": {"type": "text", "align": "center", "baseline": "middle", "color": "#ffffff", "font": "Liberation Sans", "fontSize": 12, "fontWeight": "bold"},
      "encoding": {
        "x": {"field": "tagAt", "type": "quantitative"},
        "y": {"field": "price", "type": "quantitative"},
        "text": {"field": "price", "type": "quantitative", "format": ".5f"}
      }
    },
    {
      "data": {"name": "last"},
      "transform": [{"calculate": "521.6", "as": "tagAt"}],
      "mark": {"type": "text", "align": "center", "baseline": "middle", "color": "#ffffff", "font": "Liberation Sans", "fontSize": 12, "fontWeight": "bold"},
      "encoding": {
        "x": {"field": "tagAt", "type": "quantitative"},
        "y": {"field": "price", "type": "quantitative"},
        "text": {"field": "price", "type": "quantitative", "format": ".5f"}
      }
    }
  ]
}
